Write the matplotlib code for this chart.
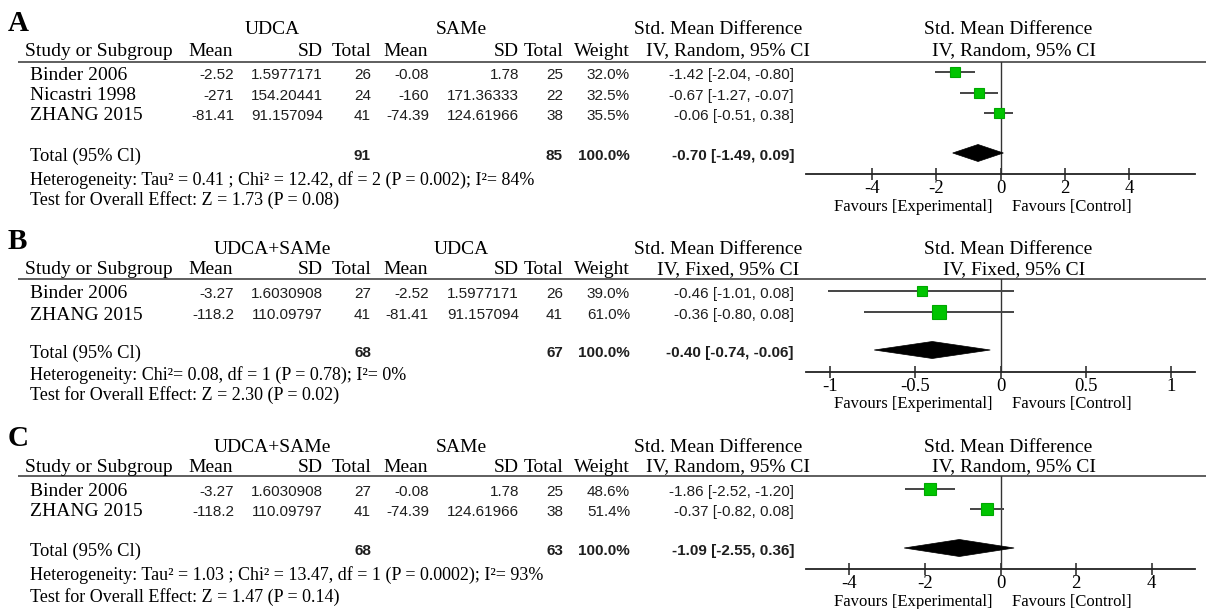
import matplotlib
matplotlib.use('Agg')
import matplotlib.pyplot as plt
from matplotlib.patches import Polygon
from matplotlib.ticker import FixedLocator, FuncFormatter

plt.rcParams['axes.unicode_minus'] = False

W, H = 1210, 609
SERIF = 'Liberation Serif'
SANS = 'Liberation Sans'

# ---------------- data ----------------
# Panel A: UDCA vs SAMe (random)
a_studies = ["Binder 2006", "Nicastri 1998", "ZHANG 2015"]
a_exp_mean = [-2.52, -271, -81.41]
a_exp_sd = [1.5977171, 154.20441, 91.157094]
a_exp_n = [26, 24, 41]
a_ctl_mean = [-0.08, -160, -74.39]
a_ctl_sd = [1.78, 171.36333, 124.61966]
a_ctl_n = [25, 22, 38]
a_weight = [32.0, 32.5, 35.5]
a_smd = [-1.42, -0.67, -0.06]
a_lo = [-2.04, -1.27, -0.51]
a_hi = [-0.80, -0.07, 0.38]
a_total = [-0.70, -1.49, 0.09]
a_ticks = [-4, -2, 0, 2, 4]

# Panel B: UDCA+SAMe vs UDCA (fixed)
b_studies = ["Binder 2006", "ZHANG 2015"]
b_exp_mean = [-3.27, -118.2]
b_exp_sd = [1.6030908, 110.09797]
b_exp_n = [27, 41]
b_ctl_mean = [-2.52, -81.41]
b_ctl_sd = [1.5977171, 91.157094]
b_ctl_n = [26, 41]
b_weight = [39.0, 61.0]
b_smd = [-0.46, -0.36]
b_lo = [-1.01, -0.80]
b_hi = [0.08, 0.08]
b_total = [-0.40, -0.74, -0.06]
b_ticks = [-1, -0.5, 0, 0.5, 1]

# Panel C: UDCA+SAMe vs SAMe (random)
c_studies = ["Binder 2006", "ZHANG 2015"]
c_exp_mean = [-3.27, -118.2]
c_exp_sd = [1.6030908, 110.09797]
c_exp_n = [27, 41]
c_ctl_mean = [-0.08, -74.39]
c_ctl_sd = [1.78, 124.61966]
c_ctl_n = [25, 38]
c_weight = [48.6, 51.4]
c_smd = [-1.86, -0.37]
c_lo = [-2.52, -0.82]
c_hi = [-1.20, 0.08]
c_total = [-1.09, -2.55, 0.36]
c_ticks = [-4, -2, 0, 2, 4]

panels = [
    dict(letter="A", exp="UDCA", ctl="SAMe", method="IV, Random, 95% CI",
         studies=a_studies, em=a_exp_mean, esd=a_exp_sd, en=a_exp_n,
         cm=a_ctl_mean, csd=a_ctl_sd, cn=a_ctl_n, w=a_weight,
         smd=a_smd, lo=a_lo, hi=a_hi, tot=a_total, ticks=a_ticks,
         het="Heterogeneity: Tau² = 0.41 ; Chi² = 12.42, df = 2 (P = 0.002); I²= 84%",
         test="Test for Overall Effect: Z = 1.73 (P = 0.08)",
         xlim=(-6.06, 6.06),
         letter_y=31, grp_y=30, hdr_y=51, line_y=62, rows=[72, 93, 113],
         total_y=153, het_y=180, test_y=200, axis_y=174, fav_y=207),
    dict(letter="B", exp="UDCA+SAMe", ctl="UDCA", method="IV, Fixed, 95% CI",
         studies=b_studies, em=b_exp_mean, esd=b_exp_sd, en=b_exp_n,
         cm=b_ctl_mean, csd=b_ctl_sd, cn=b_ctl_n, w=b_weight,
         smd=b_smd, lo=b_lo, hi=b_hi, tot=b_total, ticks=b_ticks,
         het="Heterogeneity: Chi²= 0.08, df = 1 (P = 0.78); I²= 0%",
         test="Test for Overall Effect: Z = 2.30 (P = 0.02)",
         xlim=(-1.14, 1.14),
         letter_y=249, grp_y=250, hdr_y=270, line_y=279, rows=[291, 312],
         total_y=350, het_y=375, test_y=395, axis_y=372, fav_y=404),
    dict(letter="C", exp="UDCA+SAMe", ctl="SAMe", method="IV, Random, 95% CI",
         studies=c_studies, em=c_exp_mean, esd=c_exp_sd, en=c_exp_n,
         cm=c_ctl_mean, csd=c_ctl_sd, cn=c_ctl_n, w=c_weight,
         smd=c_smd, lo=c_lo, hi=c_hi, tot=c_total, ticks=c_ticks,
         het="Heterogeneity: Tau² = 1.03 ; Chi² = 13.47, df = 1 (P = 0.0002); I²= 93%",
         test="Test for Overall Effect: Z = 1.47 (P = 0.14)",
         xlim=(-5.15, 5.15),
         letter_y=446, grp_y=447, hdr_y=467, line_y=476, rows=[489, 509],
         total_y=548, het_y=575, test_y=597, axis_y=569, fav_y=602),
]

# ---------------- layout (pixels) ----------------
X_NAME_HDR, X_NAME = 25, 30
X_MEAN1, X_SD1, X_N1 = 234, 323, 371
X_MEAN2, X_SD2, X_N2 = 429, 519, 563
X_W, X_CI = 630, 794
PLOT_L, PLOT_R = 806, 1195
FS_SERIF = 14
FS_SMALL = 13
FS_NUM = 11
FS_FAV = 12
NUM_COLOR = '#1e1e1e'
SQ_COLOR = '#00c400'
SQ_EDGE = '#00a800'

fig = plt.figure(figsize=(W / 100, H / 100), dpi=100)
bg = fig.add_axes([0, 0, 1, 1])
bg.set_xlim(0, W)
bg.set_ylim(H, 0)
bg.axis('off')


def serif(x, y, s, ha='left', size=FS_SERIF, **kw):
    bg.text(x, y, s, ha=ha, va='center', fontsize=size, family=SERIF, color='black', **kw)


def num(x, y, s, bold=False):
    bg.text(x, y, s, ha='right', va='center', fontsize=FS_NUM, family=SANS,
            color=NUM_COLOR, fontweight='bold' if bold else 'normal')


for p in panels:
    dy = 3
    bg.text(8, p['letter_y'], p['letter'], ha='left', va='baseline', fontsize=21,
            family=SERIF, fontweight='bold')
    # group headers
    serif(272, p['grp_y'], p['exp'], ha='center')
    serif(461, p['grp_y'], p['ctl'], ha='center')
    serif(718, p['grp_y'], "Std. Mean Difference", ha='center')
    serif(1008, p['grp_y'], "Std. Mean Difference", ha='center')
    # column headers
    serif(X_NAME_HDR, p['hdr_y'], "Study or Subgroup")
    serif(X_MEAN1 - 1, p['hdr_y'], "Mean", ha='right')
    serif(X_SD1, p['hdr_y'], "SD", ha='right')
    serif(X_N1, p['hdr_y'], "Total", ha='right')
    serif(X_MEAN2 - 1, p['hdr_y'], "Mean", ha='right')
    serif(X_SD2, p['hdr_y'], "SD", ha='right')
    serif(X_N2, p['hdr_y'], "Total", ha='right')
    serif(X_W, p['hdr_y'], "Weight", ha='right')
    serif(728, p['hdr_y'], p['method'], ha='center')
    serif(1014, p['hdr_y'], p['method'], ha='center')
    bg.plot([18, 1206], [p['line_y'], p['line_y']], color='#333333', lw=1.1,
            solid_capstyle='butt')

    # rows
    for i, name in enumerate(p['studies']):
        y = p['rows'][i] + dy
        serif(X_NAME, y, name)
        num(X_MEAN1, y, str(p['em'][i]))
        num(X_SD1, y, str(p['esd'][i]))
        num(X_N1, y, str(p['en'][i]))
        num(X_MEAN2, y, str(p['cm'][i]))
        num(X_SD2, y, str(p['csd'][i]))
        num(X_N2, y, str(p['cn'][i]))
        num(X_W, y, f"{p['w'][i]:.1f}%")
        num(X_CI, y, f"{p['smd'][i]:.2f} [{p['lo'][i]:.2f}, {p['hi'][i]:.2f}]")

    ty = p['total_y'] + dy
    serif(X_NAME, ty, "Total (95% Cl)", size=FS_SMALL + 0.3)
    num(X_N1, ty, str(sum(p['en'])), bold=True)
    num(X_N2, ty, str(sum(p['cn'])), bold=True)
    num(X_W, ty, f"{sum(p['w']):.1f}%", bold=True)
    est, tlo, thi = p['tot']
    num(X_CI, ty, f"{est:.2f} [{tlo:.2f}, {thi:.2f}]", bold=True)
    serif(X_NAME, p['het_y'], p['het'], size=FS_SMALL)
    serif(X_NAME, p['test_y'], p['test'], size=FS_SMALL)

    # forest axes: x in SMD units, y in pixel rows
    ax = fig.add_axes([PLOT_L / W, 1 - p['axis_y'] / H,
                       (PLOT_R - PLOT_L) / W, (p['axis_y'] - p['line_y']) / H])
    ax.set_facecolor('none')
    ax.set_xlim(*p['xlim'])
    ax.set_ylim(p['axis_y'], p['line_y'])
    for s in ['top', 'left', 'right']:
        ax.spines[s].set_visible(False)
    ax.spines['bottom'].set_linewidth(1.3)
    ax.spines['bottom'].set_color('#222222')
    ax.set_yticks([])
    ax.xaxis.set_major_locator(FixedLocator(p['ticks']))
    ax.xaxis.set_major_formatter(FuncFormatter(lambda v, pos: f"{v:g}"))
    ax.tick_params(axis='x', direction='inout', length=9, width=1.1, color='#222222',
                   labelsize=13.5, pad=0)
    for lab in ax.get_xticklabels():
        lab.set_family(SERIF)
    ax.axvline(0, color='#333333', lw=1.0)
    ax.hlines(p['rows'], p['lo'], p['hi'], color='#444444', lw=1.4)
    for i in range(len(p['studies'])):
        side_px = 1.72 * p['w'][i] ** 0.5
        ax.plot([p['smd'][i]], [p['rows'][i]], marker='s', markersize=side_px * 0.72,
                markerfacecolor=SQ_COLOR, markeredgecolor=SQ_EDGE, markeredgewidth=0.8,
                linestyle='none', zorder=3)
    h = 8.5
    ax.add_patch(Polygon([(tlo, p['total_y']), (est, p['total_y'] - h),
                          (thi, p['total_y']), (est, p['total_y'] + h)],
                         closed=True, facecolor='black', edgecolor='black', lw=0.5,
                         zorder=3))
    # favours labels
    zero_px = PLOT_L + (0 - p['xlim'][0]) / (p['xlim'][1] - p['xlim'][0]) * (PLOT_R - PLOT_L)
    serif(zero_px - 8, p['fav_y'], "Favours [Experimental]", ha='right', size=FS_FAV)
    serif(zero_px + 12, p['fav_y'], "Favours [Control]", ha='left', size=FS_FAV)

fig.savefig('out.png', dpi=100)
